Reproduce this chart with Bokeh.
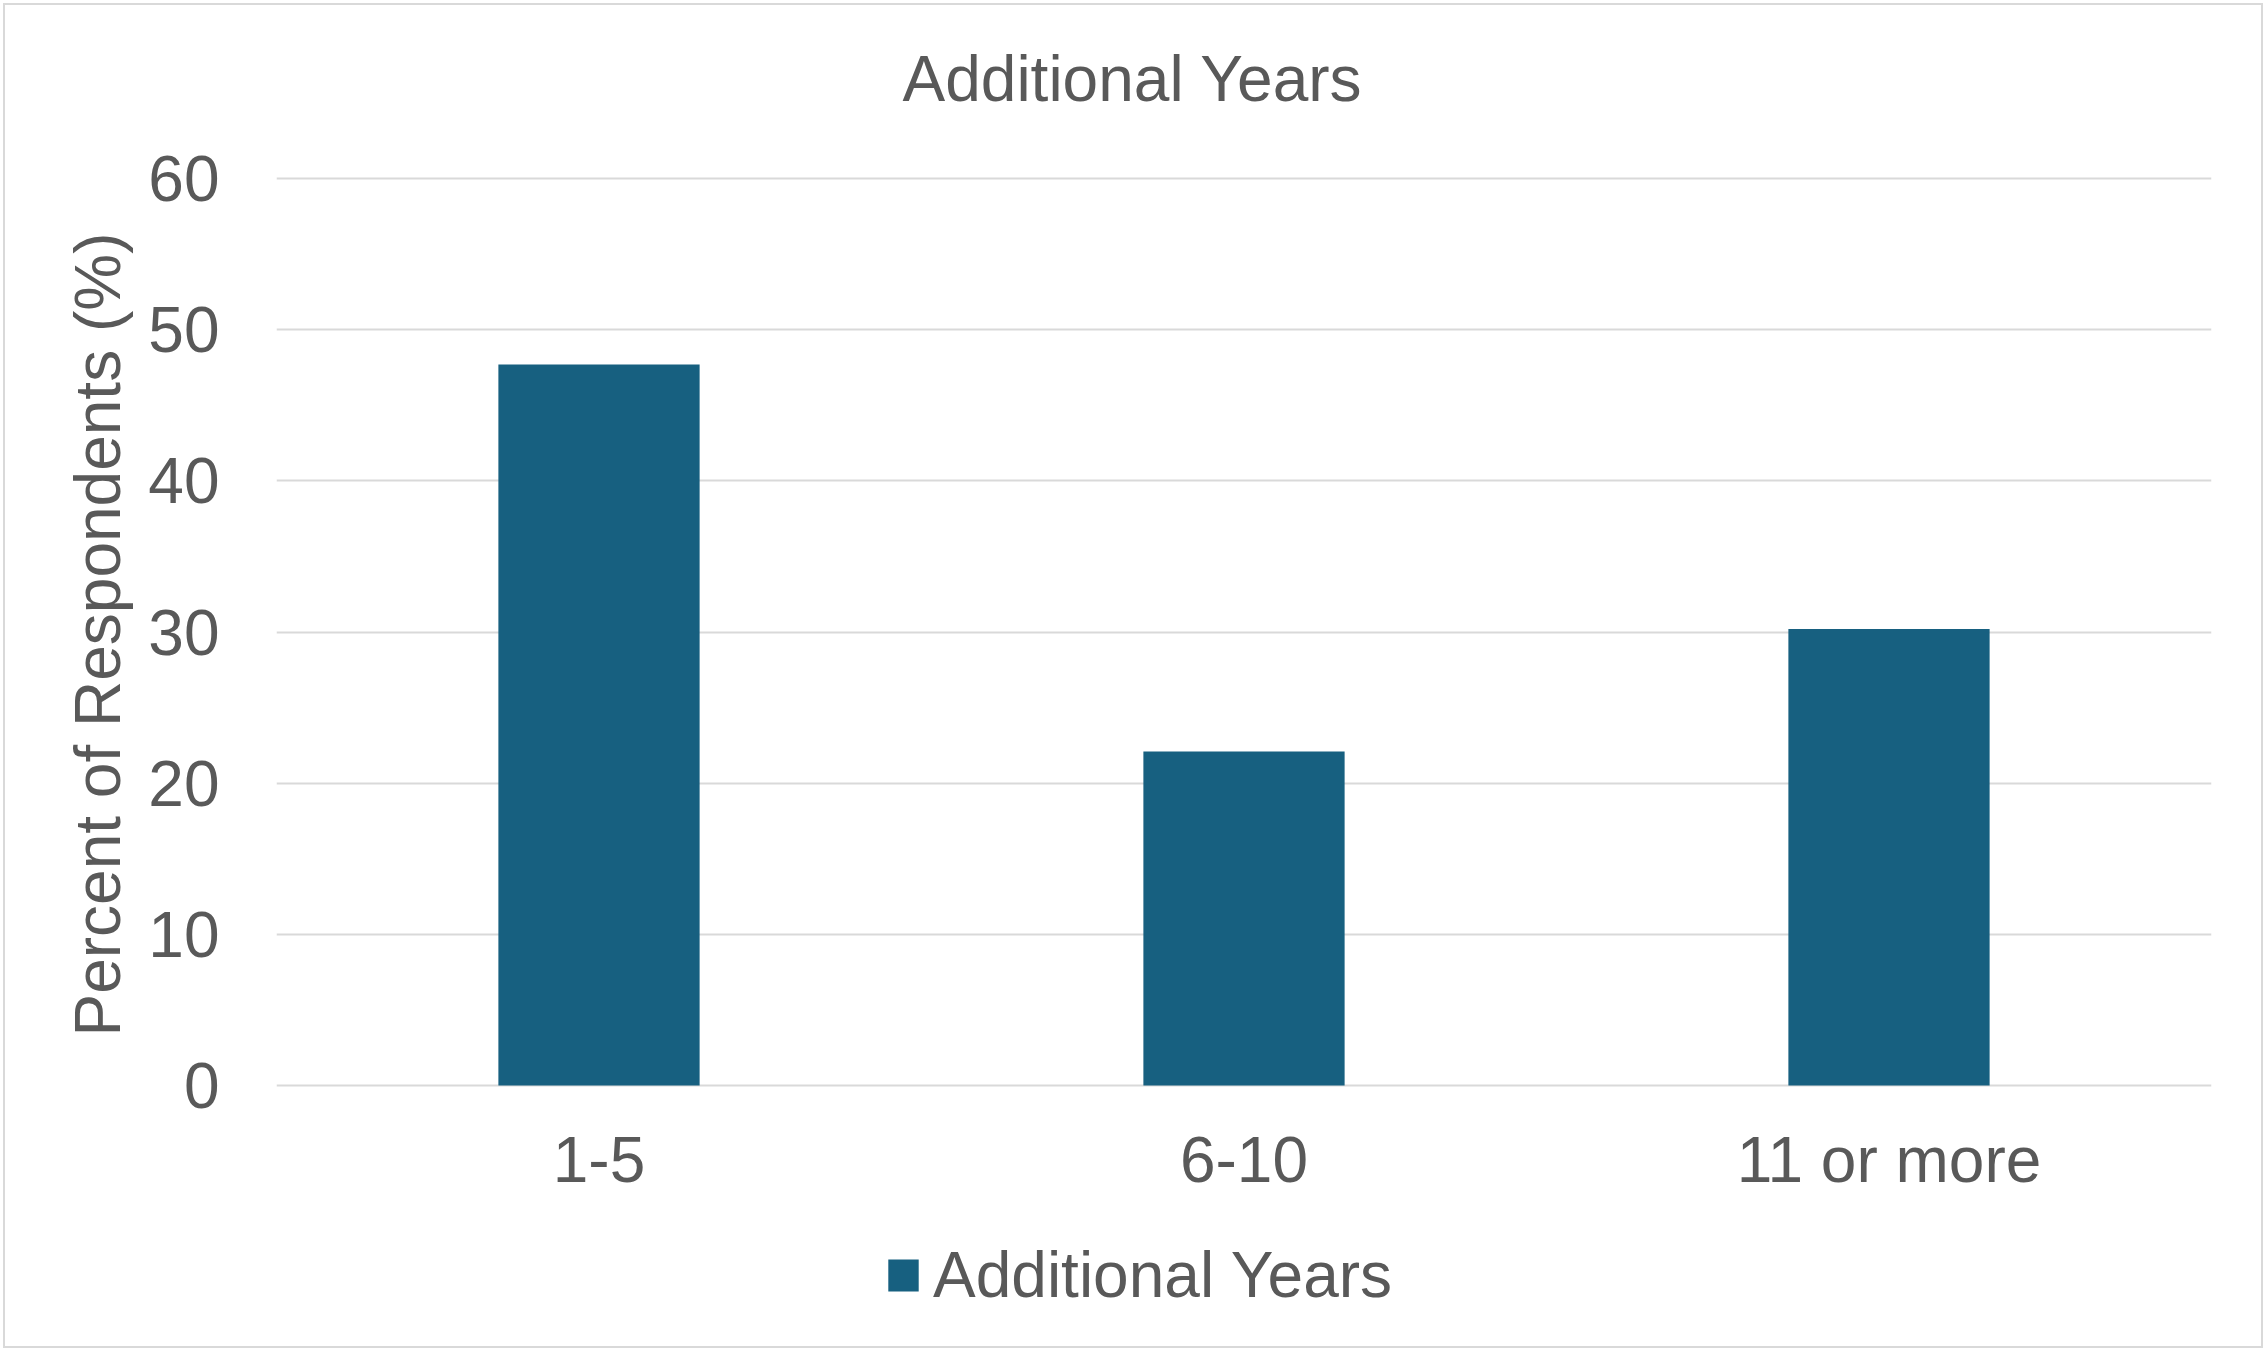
from bokeh.plotting import figure
from bokeh.models import Range1d, FixedTicker, Legend, LegendItem, Title
from bokeh.embed import file_html
from bokeh.resources import INLINE

categories = ["1-5", "6-10", "11 or more"]
values = [47.7, 22.1, 30.2]
y_ticks = [0, 10, 20, 30, 40, 50, 60]
series_name = "Additional Years"
title_text = "Additional Years"
y_label = "Percent of Respondents (%)"

FONT = "Liberation Sans"
TXT = "#595959"
GRID = "#d9d9d9"
BAR = "#176080"

# layout (pixels, figure coordinates)
W, H = 2256, 1341
FL, FR = 271, 2206          # frame left / right
Y0, Y60 = 1080, 173         # pixel rows of value 0 and value 60
FT, FB = 135, 1331          # frame top / bottom (frame also holds the legend)
ppu = (Y0 - Y60) / 60.0

p = figure(frame_width=FR - FL, frame_height=FB - FT,
           output_backend="svg", toolbar_location=None,
           x_range=Range1d(-0.5, len(categories) - 0.5),
           y_range=Range1d(-(FB - Y0) / ppu, 60 + (Y60 - FT) / ppu),
           min_border_left=FL, min_border_right=W - FR,
           min_border_top=FT, min_border_bottom=H - FB,
           title=None)
p.styles = {"margin": "5px 0 0 5px", "outline": "2px solid #d9d9d9"}
p.outline_line_color = None
p.background_fill_color = "white"
p.border_fill_color = "white"

xs = list(range(len(categories)))
r = p.vbar(x=xs, top=values, width=0.312, bottom=0, fill_color=BAR, line_color=None)

# axes
p.xaxis.ticker = FixedTicker(ticks=xs)
p.xaxis.major_label_overrides = {i: c for i, c in enumerate(categories)}
p.yaxis.ticker = FixedTicker(ticks=y_ticks)
for ax in (p.xaxis, p.yaxis):
    ax.axis_line_color = None
    ax.major_tick_line_color = None
    ax.minor_tick_line_color = None
    ax.major_tick_out = 0
    ax.major_tick_in = 0
    ax.major_label_text_font = FONT
    ax.major_label_text_font_size = "64px"
    ax.major_label_text_color = TXT
p.xaxis.major_label_standoff = (Y0 + 38) - FB
p.yaxis.major_label_standoff = 57

p.xgrid.grid_line_color = None
p.ygrid.grid_line_color = GRID
p.ygrid.grid_line_width = 2

# y axis title (rotated, in the left panel)
yt = Title(text=y_label, align="left", offset=FB - 1031, vertical_align="bottom",
           text_font=FONT, text_font_size="64px", text_font_style="normal",
           text_color=TXT, standoff=24)
p.add_layout(yt, "left")

# chart title
t = Title(text=title_text, align="left", offset=626, text_font=FONT,
          text_font_size="64px", text_font_style="normal", text_color=TXT,
          standoff=52)
p.add_layout(t, "above")

legend = Legend(items=[LegendItem(label=series_name, renderers=[r])],
                location=(608, FB - 1307), orientation="horizontal",
                label_text_font=FONT, label_text_font_size="64px",
                label_text_color=TXT, glyph_width=38, glyph_height=40,
                label_standoff=11, padding=0, margin=0,
                spacing=0, border_line_color=None, background_fill_alpha=0)
p.add_layout(legend, "center")

open("out.html", "w").write(file_html(p, INLINE))
